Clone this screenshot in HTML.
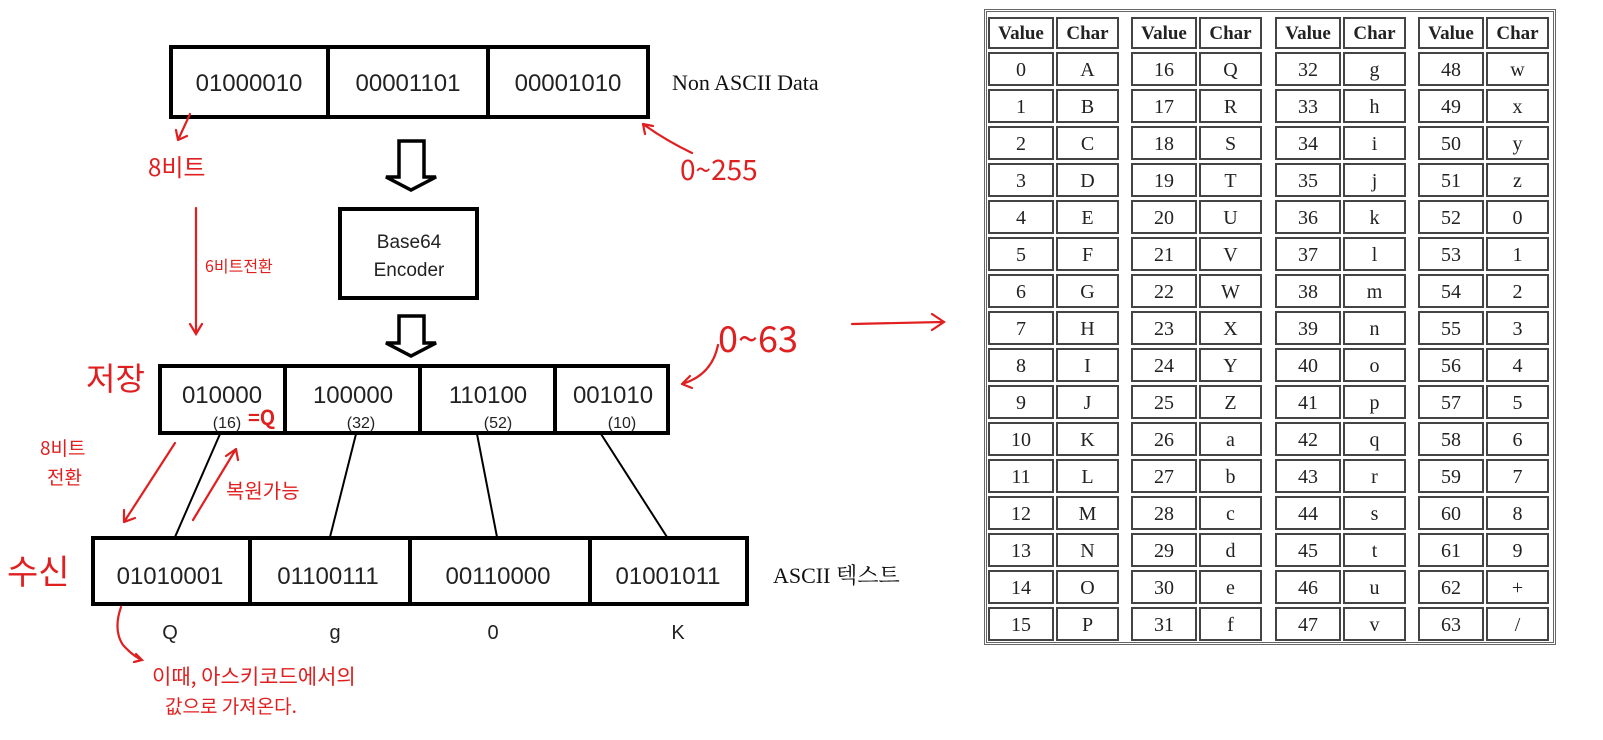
<!DOCTYPE html>
<html><head><meta charset="utf-8">
<style>
html,body{margin:0;padding:0;background:#fff;width:1603px;height:740px;overflow:hidden;position:relative}
svg{position:absolute;left:0;top:0}
.frame{position:absolute;left:984px;top:9px;width:566px;height:630px;border:3px double #666}
table.t{position:absolute;top:14px;border-collapse:separate;border-spacing:2px 3px;font-family:"Liberation Serif",serif;font-size:20px;color:#222}
table.t td{padding:0;border:2px solid #444;text-align:center}
table.t td div{height:30px;line-height:32px;overflow:hidden}
table.t td.v div{width:62px}
table.t td.c div{width:59px}
table.t tr.h td div{height:28px;line-height:30px;font-weight:bold;font-size:19px}
</style></head><body>
<div class="frame"></div>

<table class="t" style="left:986px"><tr class="h"><td class="v"><div>Value</div></td><td class="c"><div>Char</div></td></tr>
<tr><td class="v"><div>0</div></td><td class="c"><div>A</div></td></tr>
<tr><td class="v"><div>1</div></td><td class="c"><div>B</div></td></tr>
<tr><td class="v"><div>2</div></td><td class="c"><div>C</div></td></tr>
<tr><td class="v"><div>3</div></td><td class="c"><div>D</div></td></tr>
<tr><td class="v"><div>4</div></td><td class="c"><div>E</div></td></tr>
<tr><td class="v"><div>5</div></td><td class="c"><div>F</div></td></tr>
<tr><td class="v"><div>6</div></td><td class="c"><div>G</div></td></tr>
<tr><td class="v"><div>7</div></td><td class="c"><div>H</div></td></tr>
<tr><td class="v"><div>8</div></td><td class="c"><div>I</div></td></tr>
<tr><td class="v"><div>9</div></td><td class="c"><div>J</div></td></tr>
<tr><td class="v"><div>10</div></td><td class="c"><div>K</div></td></tr>
<tr><td class="v"><div>11</div></td><td class="c"><div>L</div></td></tr>
<tr><td class="v"><div>12</div></td><td class="c"><div>M</div></td></tr>
<tr><td class="v"><div>13</div></td><td class="c"><div>N</div></td></tr>
<tr><td class="v"><div>14</div></td><td class="c"><div>O</div></td></tr>
<tr><td class="v"><div>15</div></td><td class="c"><div>P</div></td></tr></table>

<table class="t" style="left:1129px"><tr class="h"><td class="v"><div>Value</div></td><td class="c"><div>Char</div></td></tr>
<tr><td class="v"><div>16</div></td><td class="c"><div>Q</div></td></tr>
<tr><td class="v"><div>17</div></td><td class="c"><div>R</div></td></tr>
<tr><td class="v"><div>18</div></td><td class="c"><div>S</div></td></tr>
<tr><td class="v"><div>19</div></td><td class="c"><div>T</div></td></tr>
<tr><td class="v"><div>20</div></td><td class="c"><div>U</div></td></tr>
<tr><td class="v"><div>21</div></td><td class="c"><div>V</div></td></tr>
<tr><td class="v"><div>22</div></td><td class="c"><div>W</div></td></tr>
<tr><td class="v"><div>23</div></td><td class="c"><div>X</div></td></tr>
<tr><td class="v"><div>24</div></td><td class="c"><div>Y</div></td></tr>
<tr><td class="v"><div>25</div></td><td class="c"><div>Z</div></td></tr>
<tr><td class="v"><div>26</div></td><td class="c"><div>a</div></td></tr>
<tr><td class="v"><div>27</div></td><td class="c"><div>b</div></td></tr>
<tr><td class="v"><div>28</div></td><td class="c"><div>c</div></td></tr>
<tr><td class="v"><div>29</div></td><td class="c"><div>d</div></td></tr>
<tr><td class="v"><div>30</div></td><td class="c"><div>e</div></td></tr>
<tr><td class="v"><div>31</div></td><td class="c"><div>f</div></td></tr></table>

<table class="t" style="left:1273px"><tr class="h"><td class="v"><div>Value</div></td><td class="c"><div>Char</div></td></tr>
<tr><td class="v"><div>32</div></td><td class="c"><div>g</div></td></tr>
<tr><td class="v"><div>33</div></td><td class="c"><div>h</div></td></tr>
<tr><td class="v"><div>34</div></td><td class="c"><div>i</div></td></tr>
<tr><td class="v"><div>35</div></td><td class="c"><div>j</div></td></tr>
<tr><td class="v"><div>36</div></td><td class="c"><div>k</div></td></tr>
<tr><td class="v"><div>37</div></td><td class="c"><div>l</div></td></tr>
<tr><td class="v"><div>38</div></td><td class="c"><div>m</div></td></tr>
<tr><td class="v"><div>39</div></td><td class="c"><div>n</div></td></tr>
<tr><td class="v"><div>40</div></td><td class="c"><div>o</div></td></tr>
<tr><td class="v"><div>41</div></td><td class="c"><div>p</div></td></tr>
<tr><td class="v"><div>42</div></td><td class="c"><div>q</div></td></tr>
<tr><td class="v"><div>43</div></td><td class="c"><div>r</div></td></tr>
<tr><td class="v"><div>44</div></td><td class="c"><div>s</div></td></tr>
<tr><td class="v"><div>45</div></td><td class="c"><div>t</div></td></tr>
<tr><td class="v"><div>46</div></td><td class="c"><div>u</div></td></tr>
<tr><td class="v"><div>47</div></td><td class="c"><div>v</div></td></tr></table>

<table class="t" style="left:1416px"><tr class="h"><td class="v"><div>Value</div></td><td class="c"><div>Char</div></td></tr>
<tr><td class="v"><div>48</div></td><td class="c"><div>w</div></td></tr>
<tr><td class="v"><div>49</div></td><td class="c"><div>x</div></td></tr>
<tr><td class="v"><div>50</div></td><td class="c"><div>y</div></td></tr>
<tr><td class="v"><div>51</div></td><td class="c"><div>z</div></td></tr>
<tr><td class="v"><div>52</div></td><td class="c"><div>0</div></td></tr>
<tr><td class="v"><div>53</div></td><td class="c"><div>1</div></td></tr>
<tr><td class="v"><div>54</div></td><td class="c"><div>2</div></td></tr>
<tr><td class="v"><div>55</div></td><td class="c"><div>3</div></td></tr>
<tr><td class="v"><div>56</div></td><td class="c"><div>4</div></td></tr>
<tr><td class="v"><div>57</div></td><td class="c"><div>5</div></td></tr>
<tr><td class="v"><div>58</div></td><td class="c"><div>6</div></td></tr>
<tr><td class="v"><div>59</div></td><td class="c"><div>7</div></td></tr>
<tr><td class="v"><div>60</div></td><td class="c"><div>8</div></td></tr>
<tr><td class="v"><div>61</div></td><td class="c"><div>9</div></td></tr>
<tr><td class="v"><div>62</div></td><td class="c"><div>+</div></td></tr>
<tr><td class="v"><div>63</div></td><td class="c"><div>/</div></td></tr></table>

<svg width="980" height="740" viewBox="0 0 980 740" xmlns="http://www.w3.org/2000/svg">
<g fill="none" stroke="#000" stroke-width="4">
<rect x="171" y="47" width="477" height="70"/>
<line x1="328" y1="47" x2="328" y2="117"/><line x1="488" y1="47" x2="488" y2="117"/>
<rect x="340" y="209" width="137" height="89"/>
<rect x="160" y="366" width="508" height="67"/>
<line x1="285" y1="366" x2="285" y2="433"/><line x1="420" y1="366" x2="420" y2="433"/><line x1="555" y1="366" x2="555" y2="433"/>
<rect x="93" y="538" width="654" height="66"/>
<line x1="250" y1="538" x2="250" y2="604"/><line x1="410" y1="538" x2="410" y2="604"/><line x1="590" y1="538" x2="590" y2="604"/>
</g>
<g fill="#fff" stroke="#000" stroke-width="3.5" stroke-linejoin="miter">
<polygon points="399,141 424,141 424,177 436,177 411,190 386,177 399,177"/>
<polygon points="399,316 424,316 424,343 436,343 411,356 386,343 399,343"/>
</g>
<g stroke="#000" stroke-width="2">
<line x1="220" y1="434" x2="175" y2="537"/>
<line x1="356" y1="434" x2="330" y2="537"/>
<line x1="477" y1="434" x2="497" y2="537"/>
<line x1="601" y1="434" x2="667" y2="537"/>
</g>
<g font-family="Liberation Sans, sans-serif" fill="#222" text-anchor="middle">
<text x="249" y="91" font-size="24">01000010</text>
<text x="408" y="91" font-size="24">00001101</text>
<text x="568" y="91" font-size="24">00001010</text>
<text x="409" y="248" font-size="19">Base64</text>
<text x="409" y="276" font-size="19">Encoder</text>
<text x="222" y="403" font-size="24">010000</text>
<text x="353" y="403" font-size="24">100000</text>
<text x="488" y="403" font-size="24">110100</text>
<text x="613" y="403" font-size="24">001010</text>
<text x="227" y="428" font-size="16">(16)</text>
<text x="361" y="428" font-size="16">(32)</text>
<text x="498" y="428" font-size="16">(52)</text>
<text x="622" y="428" font-size="16">(10)</text>
<text x="170" y="584" font-size="24">01010001</text>
<text x="328" y="584" font-size="24">01100111</text>
<text x="498" y="584" font-size="24">00110000</text>
<text x="668" y="584" font-size="24">01001011</text>
<text x="170" y="639" font-size="20">Q</text>
<text x="335" y="639" font-size="20">g</text>
<text x="493" y="639" font-size="20">0</text>
<text x="678" y="639" font-size="20">K</text>
</g>
<text x="672" y="90" font-family="Liberation Serif, serif" font-size="22" fill="#111">Non ASCII Data</text>
<text x="773" y="583" font-family="Liberation Serif, 'Noto Serif CJK SC', serif" font-size="22" fill="#111">ASCII 텍스트</text>

<g fill="none" stroke="#e02020" stroke-width="2.2" stroke-linecap="round">
<path d="M190,114 L178,140 M178,140 L176,130 M178,140 L187,136"/>
<path d="M692,153 Q665,140 643,124 M643,124 L645,134 M643,124 L653,126"/>
<path d="M196,208 L196,334 M190,324 L196,334 L202,324"/>
<path d="M852,324 L942,322 M932,314 L944,322 L932,330"/>
<path d="M718,345 Q712,375 682,384 M682,384 L690,376 M682,384 L692,388"/>
<path d="M175,443 L124,522 M124,522 L124,510 M124,522 L135,518"/>
<path d="M193,520 L236,449 M236,449 L226,456 M236,449 L238,460"/>
<path d="M121,607 Q113,630 123,645 Q133,656 142,660 M136,654 L142,660 L134,662"/>
</g>
<g font-family="'Noto Sans CJK KR', sans-serif" fill="#e02020">
<text x="148" y="176" font-size="24">8비트</text>
<text x="680" y="180" font-size="28">0~255</text>
<text x="205" y="272" font-size="16">6비트전환</text>
<text x="718" y="352" font-size="36">0~63</text>
<text x="86" y="390" font-size="32">저장</text>
<text x="248" y="425" font-size="20" font-weight="bold">=Q</text>
<text x="40" y="455" font-size="19">8비트</text>
<text x="47" y="484" font-size="19">전환</text>
<text x="226" y="498" font-size="20">복원가능</text>
<text x="7" y="584" font-size="34">수신</text>
<text x="152" y="684" font-size="21">이때, 아스키코드에서의</text>
<text x="165" y="713" font-size="19">값으로 가져온다.</text>
</g>
</svg>
</body></html>
